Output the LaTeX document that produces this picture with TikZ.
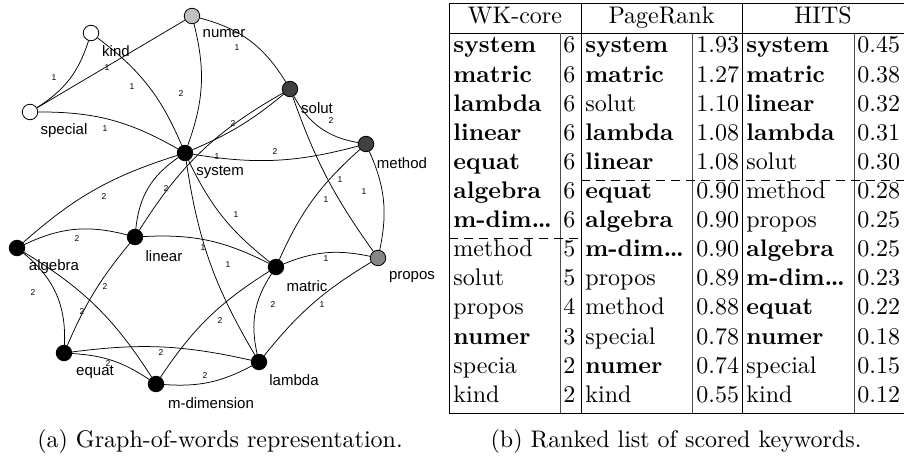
\documentclass[tikz,border=0pt]{standalone}
\usepackage{fontspec}
\newfontfamily\graphfont{Liberation Sans}
\definecolor{lightnode}{HTML}{C0C0C0}
\definecolor{darknode}{HTML}{404040}
\definecolor{midnode}{HTML}{868686}
\begin{document}
\begin{tikzpicture}[x=1pt,y=-1pt,
  vtx/.style={circle,draw=black,line width=0.8pt,minimum size=15.5pt,inner sep=0pt,fill=black},
  wlabel/.style={font=\graphfont\fontsize{15}{15}\selectfont,inner sep=0pt},
  link/.style={draw=black,line width=0.75pt},
  wt/.style={font=\graphfont\fontsize{8.5}{8.5}\selectfont,inner sep=0.5pt},
  cell/.style={anchor=base west,inner sep=0pt,scale=2.4},
  head/.style={anchor=base,inner sep=0pt,scale=2.4},
  tabrule/.style={line width=0.96pt},
  cut/.style={line width=0.96pt,dash pattern=on 9pt off 6pt},
]
\useasboundingbox (0,0) rectangle (904,457);

% ---------------- graph of words ----------------
\node[vtx,fill=white]     (kind)    at (91,33)   {};
\node[vtx,fill=lightnode] (numer)   at (192,16)  {};
\node[vtx,fill=white]     (special) at (30,112)  {};
\node[vtx,fill=darknode]  (solut)   at (290,89)  {};
\node[vtx,fill=darknode]  (method)  at (366,144) {};
\node[vtx]                (system)  at (185,153) {};
\node[vtx]                (linear)  at (135,237) {};
\node[vtx]                (algebra) at (17,248)  {};
\node[vtx]                (equat)   at (64,353)  {};
\node[vtx]                (mdim)    at (156,384) {};
\node[vtx]                (matric)  at (276,267) {};
\node[vtx,fill=midnode]   (propos)  at (378,258) {};
\node[vtx]                (lambda)  at (259,362) {};

\node[wlabel] (kind-t)    at (116,51)  {kind};
\node[wlabel] (numer-t)   at (224,34)  {numer};
\node[wlabel] (special-t) at (64,131)  {special};
\node[wlabel] (solut-t)   at (317,108) {solut};
\node[wlabel] (method-t)  at (402,163) {method};
\node[wlabel] (system-t)  at (220,172) {system};
\node[wlabel] (algebra-t) at (54,267)  {algebra};
\node[wlabel] (linear-t)  at (164,256) {linear};
\node[wlabel] (matric-t)  at (307,286) {matric};
\node[wlabel] (propos-t)  at (412,277) {propos};
\node[wlabel] (equat-t)   at (95,372)  {equat};
\node[wlabel] (lambda-t)  at (294,380) {lambda};
\node[wlabel] (mdim-t)    at (211,403) {m-dimension};

% co-occurrence edges, each followed by its weight
\draw[link] (kind)    to[bend left=20]  (special); \node[wt] (w-ks) at (54,78)   {1};
\draw[link] (kind)    to[bend left=15]  (system);  \node[wt] (w-ky) at (132,87)  {1};
\draw[link] (special) --                (numer);   \node[wt] (w-pn) at (107,68)  {1};
\draw[link] (special) to[bend left=15]  (system);  \node[wt] (w-py) at (105,129) {1};
\draw[link] (numer)   to[bend left=17]  (system);  \node[wt] (w-ny) at (181,94)  {2};
\draw[link] (numer)   to[bend left=22]  (solut);   \node[wt] (w-no) at (237,48)  {1};
\draw[link] (system)  to[bend right=8]  (solut);   \node[wt] (w-yo) at (233,124) {2};
\draw[link] (linear)  to[bend left=14]  (solut);   \node[wt] (w-lo) at (217,157) {1};
\draw[link] (system)  to[bend right=12] (method);  \node[wt] (w-ym) at (275,152) {2};
\draw[link] (solut)   to[bend right=26] (method);  \node[wt] (w-om) at (331,121) {2};
\draw[link] (solut)   to[bend right=8]  (propos);  \node[wt] (w-op) at (340,180) {1};
\draw[link] (method)  to[bend right=12] (matric);  \node[wt] (w-mr) at (326,200) {1};
\draw[link] (method)  to[bend left=18]  (propos);  \node[wt] (w-mp) at (364,192) {1};
\draw[link] (system)  to[bend right=12] (algebra); \node[wt] (w-ya) at (104,197) {2};
\draw[link] (system)  to[bend right=25] (linear);  \node[wt] (w-yl) at (166,189) {2};
\draw[link] (system)  to[bend right=11] (lambda);  \node[wt] (w-yb) at (228,265) {1};
\draw[link] (system)  to[bend right=13] (matric);  \node[wt] (w-yr) at (236,215) {1};
\draw[link] (algebra) to[bend left=20]  (linear);  \node[wt] (w-al) at (77,239)  {2};
\draw[link] (linear)  to[bend left=15]  (matric);  \node[wt] (w-lr) at (203,248) {1};
\draw[link] (algebra) to[bend left=27]  (equat);   \node[wt] (w-ae) at (33,293)  {2};
\draw[link] (algebra) to[bend left=13]  (mdim);    \node[wt] (w-ad) at (82,312)  {2};
\draw[link] (linear)  to[bend right=8]  (equat);   \node[wt] (w-le) at (105,287) {2};
\draw[link] (equat)   to[bend left=10]  (lambda);  \node[wt] (w-eb) at (161,353) {2};
\draw[link] (equat)   to[bend left=15]  (mdim);    \node[wt] (w-ed) at (108,364) {2};
\draw[link] (mdim)    to[bend right=16] (lambda);  \node[wt] (w-db) at (205,376) {2};
\draw[link] (mdim)    to[bend left=12]  (matric);  \node[wt] (w-dr) at (220,321) {2};
\draw[link] (matric)  to[bend right=23] (lambda);  \node[wt] (w-rb) at (273,305) {2};
\draw[link] (matric)  to[bend left=17]  (propos);  \node[wt] (w-rp) at (326,259) {1};
\draw[link] (lambda)  to[bend left=10]  (propos);  \node[wt] (w-bp) at (322,305) {1};

\node[head] (capa) at (220,447) {(a) Graph-of-words representation.};

% ---------------- ranked keyword table ----------------
\node[head] (h-wk)   at (515,23.5)   {WK-core};
\node[head] (h-pr)   at (661.5,23.5) {PageRank};
\node[head] (h-hits) at (823,23.5)   {HITS};

\foreach \i/\a/\b/\c/\d/\e/\f in {
  0/\textbf{system}/6/\textbf{system}/1.93/\textbf{system}/0.45,
  1/\textbf{matric}/6/\textbf{matric}/1.27/\textbf{matric}/0.38,
  2/\textbf{lambda}/6/solut/1.10/\textbf{linear}/0.32,
  3/\textbf{linear}/6/\textbf{lambda}/1.08/\textbf{lambda}/0.31,
  4/\textbf{equat}/6/\textbf{linear}/1.08/solut/0.30,
  5/\textbf{algebra}/6/\textbf{equat}/0.90/method/0.28,
  6/\textbf{m-dim\ldots}/6/\textbf{algebra}/0.90/propos/0.25,
  7/method/5/\textbf{m-dim\ldots}/0.90/\textbf{algebra}/0.25,
  8/solut/5/propos/0.89/\textbf{m-dim\ldots}/0.23,
  9/propos/4/method/0.88/\textbf{equat}/0.22,
  10/\textbf{numer}/3/special/0.78/\textbf{numer}/0.18,
  11/specia/2/\textbf{numer}/0.74/special/0.15,
  12/kind/2/kind/0.55/kind/0.12}
{
  \pgfmathsetmacro\yy{53+29.1*\i}
  \node[cell] (wk-w\i) at (453,\yy) {\a};
  \node[cell] (wk-s\i) at (563,\yy) {\b};
  \node[cell] (pr-w\i) at (585,\yy) {\c};
  \node[cell] (pr-s\i) at (696,\yy) {\d};
  \node[cell] (ht-w\i) at (746,\yy) {\e};
  \node[cell] (ht-s\i) at (857,\yy) {\f};
}

\draw[tabrule] (449,3) -- (904,3);
\draw[tabrule] (449,33) -- (904,33);
\draw[tabrule] (449,413) -- (904,413);
\foreach \x in {449,581,742} \draw[tabrule] (\x,3) -- (\x,413);
\foreach \x in {560,692,854} \draw[tabrule,black!70] (\x,33) -- (\x,413);
\draw[cut] (449,238) -- (581,238);
\draw[cut] (581,180) -- (904,180);

\node[head] (capb) at (676,447) {(b) Ranked list of scored keywords.};
\end{tikzpicture}
\end{document}
